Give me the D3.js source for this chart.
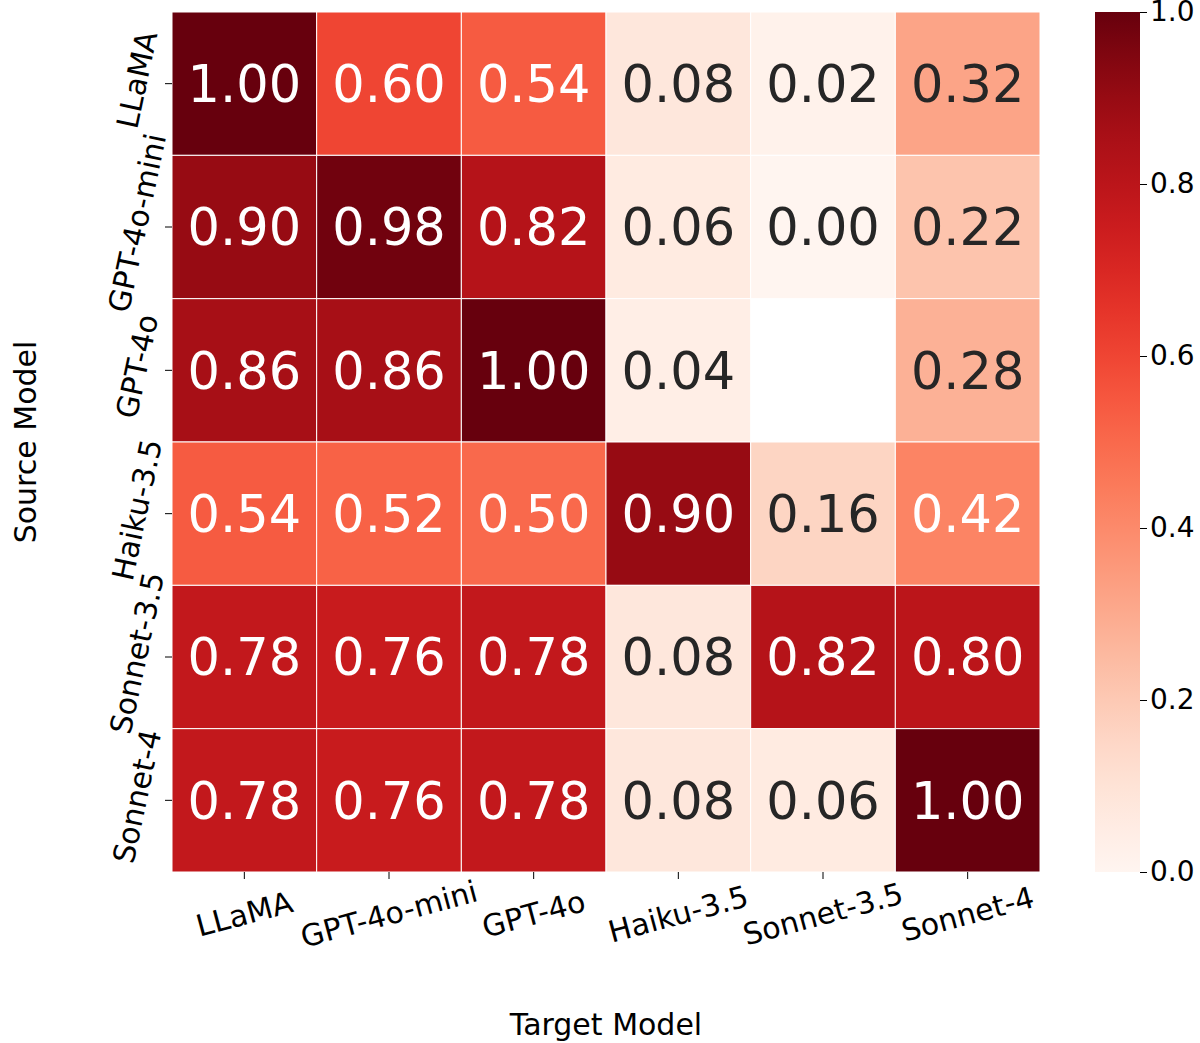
<!DOCTYPE html>
<html><head><meta charset="utf-8">
<script src="https://cdn.jsdelivr.net/npm/d3@7"></script>
<style>body{margin:0;background:#fff}text{font-family:"DejaVu Sans",sans-serif}</style>
</head><body><svg id="c" width="1200" height="1043"></svg>
<script>
const sources = ["LLaMA","GPT-4o-mini","GPT-4o","Haiku-3.5","Sonnet-3.5","Sonnet-4"];
const targets = ["LLaMA","GPT-4o-mini","GPT-4o","Haiku-3.5","Sonnet-3.5","Sonnet-4"];
const values = [
  [1.00,0.60,0.54,0.08,0.02,0.32],
  [0.90,0.98,0.82,0.06,0.00,0.22],
  [0.86,0.86,1.00,0.04,null,0.28],
  [0.54,0.52,0.50,0.90,0.16,0.42],
  [0.78,0.76,0.78,0.08,0.82,0.80],
  [0.78,0.76,0.78,0.08,0.06,1.00]
];
const cbTicks = [0,0.2,0.4,0.6,0.8,1.0];

const svg = d3.select("#c");
const x = d3.scaleBand().domain(targets).range([172,1040]);
const y = d3.scaleBand().domain(sources).range([12,872]);
const color = v => d3.interpolateReds(v);

const cells = [];
values.forEach((row,i)=>row.forEach((v,j)=>cells.push({s:sources[i],t:targets[j],v})));
const g = svg.append("g");
g.selectAll("rect").data(cells.filter(d=>d.v!==null)).join("rect")
  .attr("x",d=>x(d.t)).attr("y",d=>y(d.s)).attr("width",x.bandwidth()).attr("height",y.bandwidth())
  .attr("fill",d=>color(d.v)).attr("stroke","#fff").attr("stroke-width",1);
g.selectAll("text").data(cells.filter(d=>d.v!==null)).join("text")
  .attr("x",d=>x(d.t)+x.bandwidth()/2).attr("y",d=>y(d.s)+y.bandwidth()/2)
  .attr("text-anchor","middle").attr("dy","0.36em").attr("font-size",51)
  .attr("fill",d=>d.v>=0.4?"#fff":"#262626").text(d=>d.v.toFixed(2));

targets.forEach(t=>{
  const cx = x(t)+x.bandwidth()/2;
  svg.append("line").attr("x1",cx).attr("x2",cx).attr("y1",872).attr("y2",879).attr("stroke","#000");
  svg.append("text").attr("transform",`translate(${cx},${914}) rotate(-15)`)
    .attr("text-anchor","middle").attr("dy","0.35em").attr("font-size",30).text(t);
});
sources.forEach(s=>{
  const cy = y(s)+y.bandwidth()/2;
  svg.append("line").attr("x1",165).attr("x2",172).attr("y1",cy).attr("y2",cy).attr("stroke","#000");
  svg.append("text").attr("transform",`translate(${137},${cy-4}) rotate(-78)`)
    .attr("text-anchor","middle").attr("dy","0.35em").attr("font-size",30).text(s);
});
svg.append("text").attr("x",606).attr("y",1035).attr("text-anchor","middle").attr("font-size",30).text("Target Model");
svg.append("text").attr("transform","translate(36,442) rotate(-90)").attr("text-anchor","middle").attr("font-size",30).text("Source Model");

const cy = d3.scaleLinear().domain([0,1]).range([872,12]);
const defs = svg.append("defs");
const lg = defs.append("linearGradient").attr("id","gr").attr("x1",0).attr("y1",1).attr("x2",0).attr("y2",0);
d3.range(0,1.001,0.05).forEach(t=>lg.append("stop").attr("offset",t).attr("stop-color",color(t)));
svg.append("rect").attr("x",1095).attr("y",12).attr("width",45).attr("height",860).attr("fill","url(#gr)");
const ax = svg.append("g").attr("transform","translate(1140,0)")
  .call(d3.axisRight(cy).tickValues(cbTicks).tickFormat(d3.format(".1f")).tickSize(7));
ax.select(".domain").remove();
ax.selectAll("text").attr("font-size",28).attr("font-family","DejaVu Sans").attr("fill","#000").attr("x",10);
</script></body></html>
